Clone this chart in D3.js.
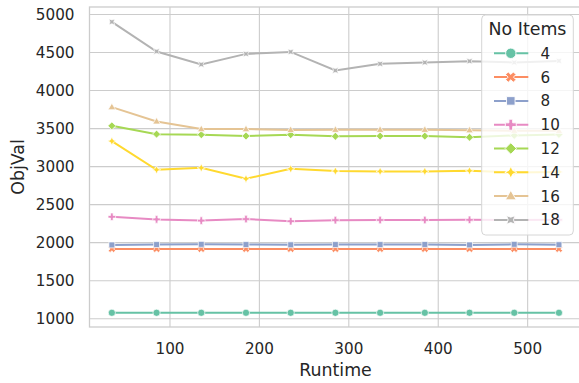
<!DOCTYPE html>
<html><head><meta charset="utf-8">
<script src="https://cdn.jsdelivr.net/npm/d3@7"></script>
<style>body{margin:0;background:#fff;} svg{display:block;font-family:"DejaVu Sans",sans-serif;}</style>
</head><body><svg id="c" width="579" height="383"></svg>
<script>
const runtime = [35,85,135,185,235,285,335,385,435,485,535];
const noItems = ["4","6","8","10","12","14","16","18"];
const s4  = [1078,1078,1078,1078,1078,1078,1078,1078,1078,1078,1078];
const s6  = [1918,1918,1918,1918,1918,1918,1918,1918,1918,1918,1918];
const s8  = [1970,1975,1978,1975,1972,1975,1975,1976,1970,1978,1973];
const s10 = [2340,2306,2290,2310,2282,2296,2298,2298,2300,2298,2300];
const s12 = [3536,3427,3420,3402,3420,3398,3401,3401,3385,3410,3423];
const s14 = [3335,2958,2984,2840,2971,2941,2937,2937,2945,2924,2930];
const s16 = [3782,3594,3493,3493,3482,3484,3484,3484,3478,3472,3470];
const s18 = [4903,4514,4343,4482,4508,4264,4351,4369,4386,4369,4390];
const seriesValues = [s4,s6,s8,s10,s12,s14,s16,s18];
const xTicks = [100,200,300,400,500];
const yTicks = [1000,1500,2000,2500,3000,3500,4000,4500,5000];
const colors = ["#66c2a5","#fc8d62","#8da0cb","#e78ac3","#a6d854","#ffd92f","#e5c494","#b3b3b3"];
const markers = ["circle","X","square","P","diamond","star4","triangle","star4r"];

const svg = d3.select("#c");
const L=89.5, R=581.3, T=7, B=327;
const x = d3.scaleLinear().domain([10,560]).range([L,R]);
const y = d3.scaleLinear().domain([890.9,5098.6]).range([B,T]);
const txt = "#262626", grid="#cccccc";

function poly(pts){return "M"+pts.map(p=>p[0].toFixed(2)+","+p[1].toFixed(2)).join("L")+"Z";}
function star(n, r, inner, rot){
  const pts=[];
  for(let i=0;i<2*n;i++){
    const a = rot + Math.PI*i/n; const rr = i%2===0? r : r*inner;
    pts.push([rr*Math.sin(a), -rr*Math.cos(a)]);
  }
  return poly(pts);
}
function markerPath(type, r){
  switch(type){
    case "circle": return `M${r},0A${r},${r} 0 1,1 ${-r},0A${r},${r} 0 1,1 ${r},0Z`;
    case "square": { const h=r*0.82; return poly([[-h,-h],[h,-h],[h,h],[-h,h]]); }
    case "diamond": { const h=r*1.1; return poly([[0,-h],[h,0],[0,h],[-h,0]]); }
    case "triangle": { const h=r*1.1; return poly([[0,-h],[h*0.95,h*0.65],[-h*0.95,h*0.65]]); }
    case "P": { const e=r*1.05, w=r*0.36; return poly([[-w,-e],[w,-e],[w,-w],[e,-w],[e,w],[w,w],[w,e],[-w,e],[-w,w],[-e,w],[-e,-w],[-w,-w]]); }
    case "X": { const e=r*1.05, w=r*0.36; const base=[[-w,-e],[w,-e],[w,-w],[e,-w],[e,w],[w,w],[w,e],[-w,e],[-w,w],[-e,w],[-e,-w],[-w,-w]];
      const c=Math.SQRT1_2; return poly(base.map(p=>[c*(p[0]-p[1]), c*(p[0]+p[1])])); }
    case "star4": return star(4, r*1.15, 0.45, 0);
    case "star4r": return star(4, r*1.15, 0.45, Math.PI/4);
  }
}

// grid
svg.append("g").selectAll("line").data(yTicks).join("line")
  .attr("x1",L).attr("x2",R).attr("y1",d=>y(d)).attr("y2",d=>y(d))
  .attr("stroke",grid).attr("stroke-width",1.1);
svg.append("g").selectAll("line").data(xTicks).join("line")
  .attr("y1",T).attr("y2",B).attr("x1",d=>x(d)).attr("x2",d=>x(d))
  .attr("stroke",grid).attr("stroke-width",1.1);
// spines
svg.append("rect").attr("x",L).attr("y",T).attr("width",R-L).attr("height",B-T)
  .attr("fill","none").attr("stroke",grid).attr("stroke-width",1.3);

// tick labels
svg.append("g").selectAll("text").data(yTicks).join("text")
  .attr("x",74.5).attr("y",d=>y(d)).attr("dy","0.36em").attr("text-anchor","end")
  .attr("font-size","15.2px").attr("fill",txt).text(d=>d);
svg.append("g").selectAll("text").data(xTicks).join("text")
  .attr("x",d=>x(d)).attr("y",349).attr("dy","0.36em").attr("text-anchor","middle")
  .attr("font-size","15.2px").attr("fill",txt).text(d=>d);
svg.append("text").attr("x",335.5).attr("y",370).attr("dy","0.36em").attr("text-anchor","middle")
  .attr("font-size","17.4px").attr("fill",txt).text("Runtime");
svg.append("text").attr("transform","translate(17.5,167) rotate(-90)").attr("dy","0.36em").attr("text-anchor","middle")
  .attr("font-size","17.4px").attr("fill",txt).text("ObjVal");

// series
const line = d3.line().x(d=>x(d[0])).y(d=>y(d[1]));
seriesValues.forEach((vals,i)=>{
  const pts = runtime.map((r,j)=>[r,vals[j]]);
  const g = svg.append("g");
  g.append("path").attr("d",line(pts)).attr("fill","none").attr("stroke",colors[i]).attr("stroke-width",2);
  g.selectAll("path.m").data(pts).join("path").attr("class","m")
    .attr("transform",d=>`translate(${x(d[0])},${y(d[1])})`)
    .attr("d",markerPath(markers[i],3.6))
    .attr("fill",colors[i]).attr("stroke","#fff").attr("stroke-width",0.7);
});

// legend
const lg = svg.append("g");
lg.append("rect").attr("x",481.7).attr("y",15).attr("width",91.6).attr("height",220).attr("rx",4)
  .attr("fill","#fff").attr("fill-opacity",0.8).attr("stroke","#d6d6d6").attr("stroke-width",1);
lg.append("text").attr("x",527.5).attr("y",29).attr("dy","0.36em").attr("text-anchor","middle")
  .attr("font-size","17.4px").attr("fill",txt).text("No Items");
noItems.forEach((lab,i)=>{
  const yy = 53.3 + i*23.8;
  lg.append("line").attr("x1",494).attr("x2",528.3).attr("y1",yy).attr("y2",yy)
    .attr("stroke",colors[i]).attr("stroke-width",2);
  lg.append("path").attr("transform",`translate(510.8,${yy})`).attr("d",markerPath(markers[i],5.2))
    .attr("fill",colors[i]).attr("stroke","#fff").attr("stroke-width",0.9);
  lg.append("text").attr("x",540.5).attr("y",yy).attr("dy","0.36em")
    .attr("font-size","15.2px").attr("fill",txt).text(lab);
});
</script></body></html>
